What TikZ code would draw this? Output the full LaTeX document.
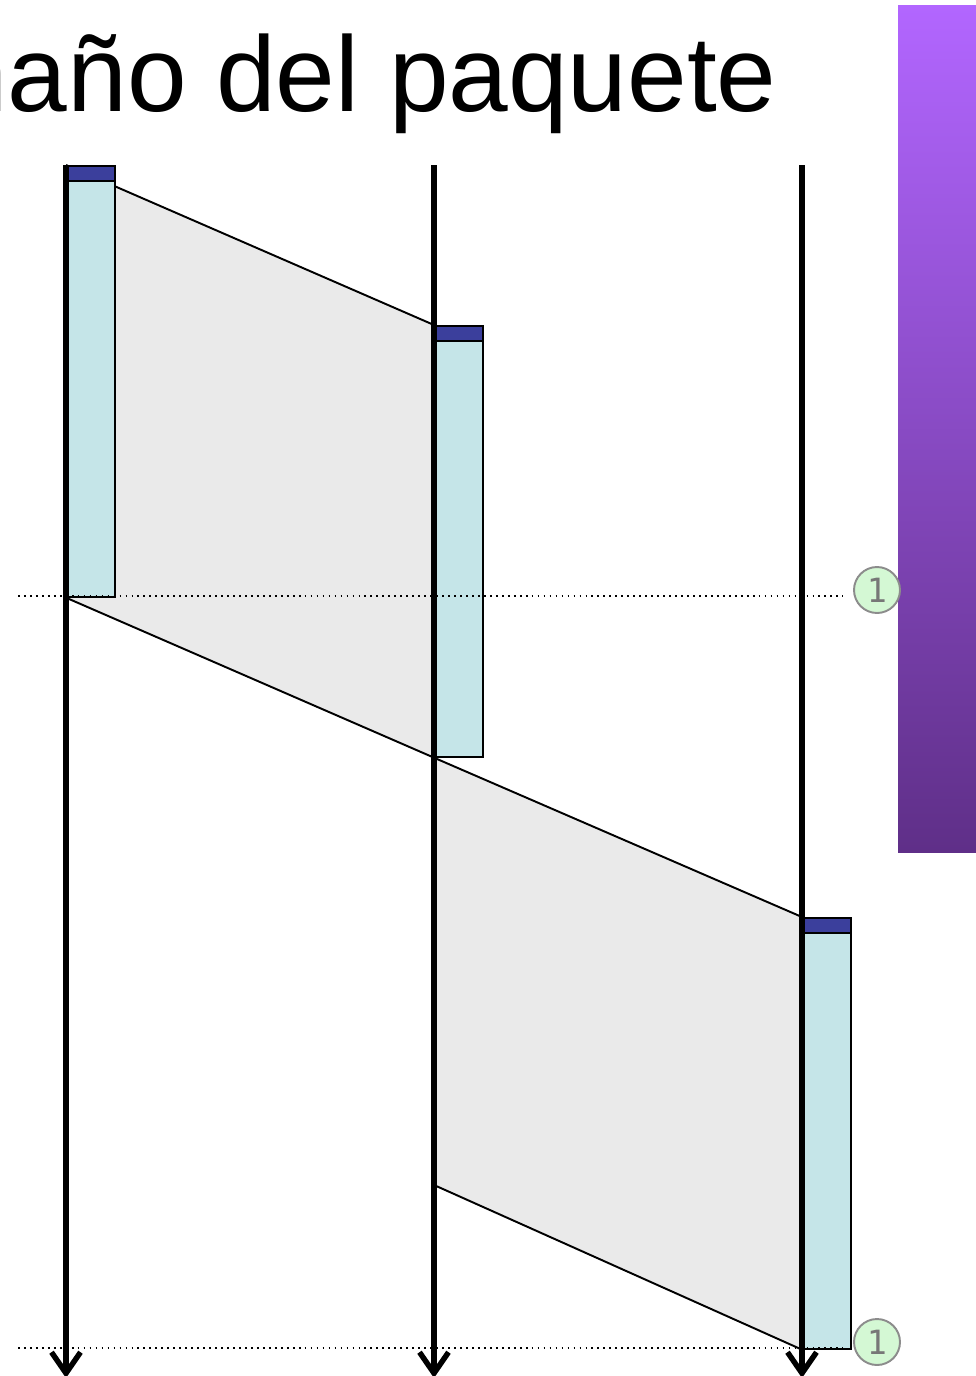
\documentclass[tikz,border=0pt]{standalone}
\usepackage{fontspec}
\setmainfont{Liberation Sans}
\newfontfamily\markfont{DejaVu Sans Mono}
\usetikzlibrary{arrows.meta,positioning,backgrounds}
\definecolor{hdrblue}{HTML}{3B3F9C}
\definecolor{bodycyan}{HTML}{C5E5E8}
\definecolor{gapgray}{HTML}{EAEAEA}
\definecolor{markgreen}{HTML}{D4F8D4}
\definecolor{markgray}{HTML}{8C8C8C}
\definecolor{barTop}{HTML}{B266FF}
\definecolor{barBot}{HTML}{5F2F88}
\begin{document}
\begin{tikzpicture}[
            x=0.02cm, y=-0.02cm,
            sq head/.style  ={draw, fill=hdrblue, line width=1pt, inner sep=0,
                    minimum width=0.96cm, minimum height=0.3cm, anchor=north west},
            sq body/.style  ={draw, fill=bodycyan, line width=1pt, inner sep=0,
                    minimum width=0.96cm, minimum height=8.32cm, anchor=north west},
            sq time/.style  ={line width=3.3pt,
                    -{Straight Barb[length=0.42cm,width=0.58cm,line width=3.1pt]}},
            sq gap/.style   ={fill=gapgray},
            sq edge/.style  ={line width=1.1pt},
            sq sync/.style  ={line width=1.1pt, dash pattern=on 1pt off 2.4pt},
            sq mark/.style  ={draw=markgray, fill=markgreen, shape=circle, line width=1.1pt,
                    minimum size=0.92cm, inner sep=0, text=markgray!85!black,
                    font=\markfont\fontsize{19}{19}\selectfont}
        ]
        \useasboundingbox (0,0) rectangle (976,1376);
        \clip (0,0) rectangle (976,1376);
        %% --- title and side bar ------------------------------------------------
        \shade[top color=barTop, bottom color=barBot] (898,5) rectangle (980,852);
        \node[anchor=base east, inner sep=0, font=\fontsize{61}{61}\selectfont]
            (title) at (777,111) {tamaño del paquete};
        %% --- packets: header + body at each node --------------------------------
        \foreach \n/\x/\t in {A/66/165, B/434/325, C/802/917} {
                \node[sq head] (head\n) at (\x,\t) {};
                \node[sq body] (body\n) at (\x,\t+15) {};
            }
        %% --- transmission gaps between the nodes -------------------------------
        \begin{scope}[on background layer]
            \fill[sq gap] (headA.north west) -- (headB.north west)
                -- (bodyB.south west) -- (bodyA.south west) -- cycle;
            \draw[sq edge] (headA.north west) -- (headB.north west);
            \draw[sq edge] (bodyA.south west) -- (bodyB.south west);
            \coordinate (lastB) at (434,1185);
            \fill[sq gap] (bodyB.south west) -- (headC.north west)
                -- (bodyC.south west) -- (lastB) -- cycle;
            \draw[sq edge] (bodyB.south west) -- (headC.north west);
            \draw[sq edge] (lastB) -- (bodyC.south west);
        \end{scope}
        %% --- sync marks -----------------------------------------------------------
        \node[sq mark] (mark1) at (877,590) {1};
        \node[sq mark] (mark2) at (877,1342) {1};
        \coordinate (syncL1) at (18,596);
        \coordinate (syncL2) at (18,1348);
        \draw[sq sync, shorten >=6] (syncL1) -- (syncL1 -| mark1.west);
        \draw[sq sync, shorten >=6] (syncL2) -- (syncL2 -| mark2.west);
        %% --- time lines -----------------------------------------------------------
        \foreach \n/\x in {A/66, B/434, C/802} {
                \coordinate (top\n) at (\x,165);
                \coordinate (bot\n) at (\x,1378);
                \draw[sq time] (top\n) -- (bot\n);
            }
    \end{tikzpicture}
\end{document}
